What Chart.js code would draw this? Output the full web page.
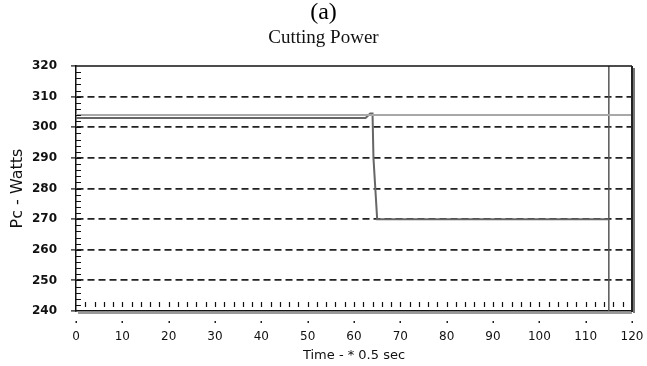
<!DOCTYPE html>
<html>
<head>
<meta charset="utf-8">
<script src="https://cdn.jsdelivr.net/npm/chart.js@4.4.1/dist/chart.umd.min.js"></script>
<style>
  html, body { margin: 0; padding: 0; background: #fff; }
  #wrap { width: 647px; height: 366px; }
</style>
</head>
<body>
<div id="wrap"><canvas id="chart" width="647" height="366"></canvas></div>
<script>
// reference level (light trace)
var refTime = [0, 120];
var refPower = [304, 304];
// measured cutting power (dark trace)
var powerTime = [0, 62.5, 63.5, 64, 64.2, 64.6, 65, 115];
var powerWatts = [303, 303, 304.5, 304.5, 290, 280, 270, 270];
// cursor line
var cursorTime = [115, 115];
var cursorWatts = [240, 320];

var yTicks = [240, 250, 260, 270, 280, 290, 300, 310, 320];
var xTicks = [0, 10, 20, 30, 40, 50, 60, 70, 80, 90, 100, 110, 120];

function pts(xs, ys) {
  return xs.map(function (x, i) { return { x: x, y: ys[i] }; });
}

// frame, shadows and the small minor ticks of the old plot window
var frame = {
  id: 'frame',
  afterDraw: function (chart) {
    var c = chart.ctx, a = chart.chartArea;
    var xs = chart.scales.x, ys = chart.scales.y;
    c.save();
    c.strokeStyle = '#111';
    c.lineWidth = 1.5;
    c.beginPath();
    c.moveTo(a.left, a.top);
    c.lineTo(a.right, a.top);
    c.stroke();
    // right border with a dark shadow
    c.fillStyle = '#222';
    c.fillRect(a.right - 1, a.top, 2, a.bottom - a.top + 1);
    c.fillStyle = '#777';
    c.fillRect(a.right + 1, a.top + 2, 2, a.bottom - a.top);
    // grey shadow under the time axis
    c.fillStyle = '#999';
    c.fillRect(a.left + 2, a.bottom + 1, a.right - a.left - 2, 2);
    // minor ticks
    c.strokeStyle = '#111';
    c.lineWidth = 1.2;
    c.beginPath();
    for (var t = 2; t < 120; t += 2) {
      var px = Math.round(xs.getPixelForValue(t)) + 0.5;
      c.moveTo(px, a.bottom - 9);
      c.lineTo(px, a.bottom - 4);
    }
    for (var v = 242; v < 320; v += 2) {
      var py = Math.round(ys.getPixelForValue(v)) + 0.5;
      c.moveTo(a.left, py);
      c.lineTo(a.left + 5, py);
    }
    c.stroke();
    // dots under the major time ticks
    c.fillStyle = '#222';
    xTicks.forEach(function (t) {
      var px = Math.round(xs.getPixelForValue(t));
      c.fillRect(px - 0.5, a.bottom + 10, 1.5, 2);
    });
    c.restore();
  }
};

var ctx = document.getElementById('chart').getContext('2d');
var chart = new Chart(ctx, {
  type: 'scatter',
  data: {
    datasets: [{
      data: pts(refTime, refPower),
      showLine: true,
      borderColor: '#a8a8a8',
      borderWidth: 2,
      pointRadius: 0
    }, {
      data: pts(powerTime, powerWatts),
      showLine: true,
      borderColor: '#666',
      borderWidth: 2,
      pointRadius: 0
    }, {
      data: pts(cursorTime, cursorWatts),
      showLine: true,
      borderColor: '#555',
      borderWidth: 1.5,
      pointRadius: 0
    }]
  },
  options: {
    responsive: false,
    animation: false,
    layout: { padding: 0 },
    plugins: {
      legend: { display: false },
      tooltip: { enabled: false },
      title: {
        display: true,
        text: '(a)',
        color: '#000',
        font: { family: 'Liberation Serif', size: 24, weight: 'normal', lineHeight: 1 },
        padding: { top: 1, bottom: 0 }
      },
      subtitle: {
        display: true,
        text: 'Cutting Power',
        color: '#111',
        font: { family: 'Liberation Serif', size: 19, weight: 'normal', lineHeight: 1 },
        padding: { top: 4, bottom: 18 }
      }
    },
    scales: {
      x: {
        type: 'linear',
        min: 0,
        max: 120,
        afterFit: function (s) {
          s.height = 55;
          s.paddingLeft = 0;
          s.paddingRight = 15;
        },
        afterBuildTicks: function (s) { s.ticks = xTicks.map(function (v) { return { value: v }; }); },
        grid: { display: true, drawOnChartArea: false, drawTicks: false },
        border: { display: true, color: '#111', width: 1.5 },
        ticks: {
          padding: 19,
          color: '#111',
          font: { family: 'DejaVu Sans', size: 12 },
          maxRotation: 0
        },
        title: {
          display: true,
          text: 'Time - * 0.5 sec',
          color: '#111',
          font: { family: 'DejaVu Sans', size: 13 },
          padding: { top: 0, bottom: 3 }
        }
      },
      y: {
        min: 240,
        max: 320,
        afterFit: function (s) { s.width = 76; },
        afterBuildTicks: function (s) { s.ticks = yTicks.map(function (v) { return { value: v }; }); },
        grid: {
          drawTicks: true,
          tickLength: 5,
          tickColor: '#111',
          tickWidth: 1.2,
          lineWidth: 1.8,
          color: function (c) {
            var v = c.tick && c.tick.value;
            return (v === 240 || v === 320) ? 'rgba(0,0,0,0)' : '#222';
          }
        },
        border: { display: true, color: '#111', width: 1.5, dash: [7, 4] },
        ticks: {
          padding: 14,
          color: '#111',
          font: { family: 'DejaVu Sans', size: 12, weight: 'bold' }
        },
        title: {
          display: true,
          text: 'Pc - Watts',
          color: '#111',
          font: { family: 'DejaVu Sans', size: 16 },
          padding: { top: 8, bottom: 0 }
        }
      }
    }
  },
  plugins: [frame]
});
</script>
</body>
</html>
